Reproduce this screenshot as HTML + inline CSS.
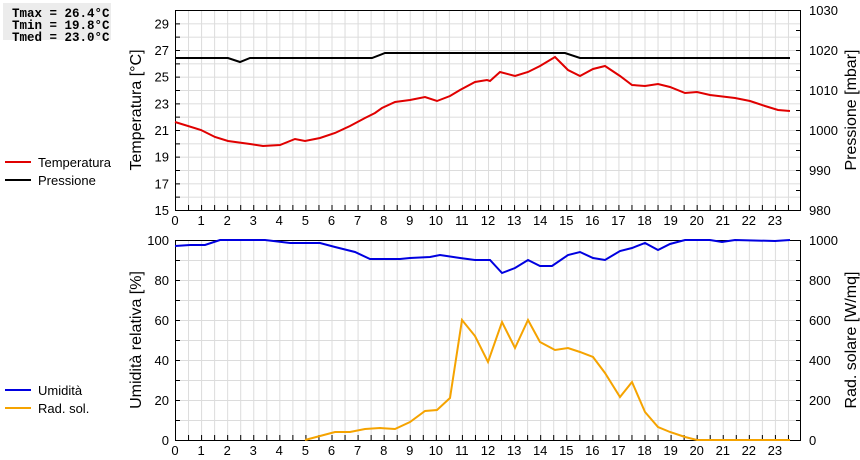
<!DOCTYPE html>
<html><head><meta charset="utf-8"><style>
body{margin:0;background:#fff;width:860px;height:460px;overflow:hidden}
svg{display:block;font-family:"Liberation Sans",sans-serif}
</style></head><body>
<svg width="860" height="460" xmlns="http://www.w3.org/2000/svg">
<defs>
<pattern id="gt" patternUnits="userSpaceOnUse" x="175" y="10" width="13.0417" height="13.3333"><path d="M0.5 0V13.3333M0 0.5H13.0417" stroke="#dcdcdc" stroke-width="1" fill="none"/></pattern>
<pattern id="gb" patternUnits="userSpaceOnUse" x="175" y="240" width="13.0417" height="20"><path d="M0.5 0V20M0 0.5H13.0417" stroke="#dcdcdc" stroke-width="1" fill="none"/></pattern>
</defs>
<rect x="3" y="3" width="108" height="37" fill="#ececec"/>
<g font-family="Liberation Mono,monospace" font-size="12.5" font-weight="bold" fill="#000">
<text x="12" y="17">Tmax = 26.4°C</text>
<text x="12" y="29">Tmin = 19.8°C</text>
<text x="12" y="41">Tmed = 23.0°C</text>
</g>
<rect x="175" y="10" width="626" height="200" fill="url(#gt)"/>
<rect x="175" y="240" width="626" height="200" fill="url(#gb)"/>
<g stroke="#000" fill="none">
<rect x="175.5" y="10.5" width="625" height="200"/>
<rect x="175.5" y="240.5" width="625" height="200"/>
<line x1="175" y1="207.5" x2="801" y2="207.5" stroke-width="5" stroke-dasharray="1 12.0417"/>
<line x1="175" y1="437.5" x2="801" y2="437.5" stroke-width="5" stroke-dasharray="1 12.0417"/>
<line x1="177.5" y1="10" x2="177.5" y2="211" stroke-width="5" stroke-dasharray="1 12.3333"/>
<line x1="798.5" y1="10" x2="798.5" y2="211" stroke-width="5" stroke-dasharray="1 19"/>
<line x1="177.5" y1="240" x2="177.5" y2="441" stroke-width="5" stroke-dasharray="1 19"/>
<line x1="798.5" y1="240" x2="798.5" y2="441" stroke-width="5" stroke-dasharray="1 19"/>
</g>
<polyline fill="none" stroke="#000" stroke-width="2" points="175,58 228,58 240,62 250,58 372,58 385,53 565,53 580,58 790,58"/>
<polyline fill="none" stroke="#e00000" stroke-width="2" points="175,122 201,130 215,137 228,141 250,144 263,146 280,145 295,139 305,141 320,138 335,133 350,126 365,118 375,113 382,108 395,102 410,100 425,97 437,101 450,96 460,90 475,82 487,80 490,81 500,72 515,76 528,72 540,66 555,57 568,70 580,76 593,69 605,66 620,76 632,85 645,86 658,84 670,87 685,93 697,92 710,95 735,98 750,101 765,106 778,110 790,111"/>
<polyline fill="none" stroke="#0000e0" stroke-width="2" points="175,246 190,245 205,245 220,240 265,240 290,243 320,243 335,247 355,252 370,259 385,259 400,259 410,258 430,257 440,255 460,258 475,260 490,260 502,273 515,268 528,260 540,266 552,266 568,255 580,252 593,258 605,260 620,251 632,248 645,243 658,250 670,244 685,240 710,240 722,242 735,240 775,241 790,240"/>
<polyline fill="none" stroke="#f5a300" stroke-width="2" points="305,440 320,436 335,432 350,432 365,429 380,428 395,429 410,422 425,411 437,410 450,398 462,320 475,336 488,362 502,322 515,348 528,320 540,342 555,350 568,348 580,352 593,357 605,373 620,397 632,382 645,412 658,427 670,432 685,437 697,440 790,440"/>
<g font-size="13">
<line x1="5" y1="162" x2="31" y2="162" stroke="#e00000" stroke-width="2"/><text x="38" y="167">Temperatura</text>
<line x1="5" y1="180" x2="31" y2="180" stroke="#000" stroke-width="2"/><text x="38" y="185">Pressione</text>
<line x1="5" y1="390" x2="31" y2="390" stroke="#0000e0" stroke-width="2"/><text x="38" y="395">Umidità</text>
<line x1="5" y1="408" x2="31" y2="408" stroke="#f5a300" stroke-width="2"/><text x="38" y="413">Rad. sol.</text>
</g>
<g font-size="16">
<text transform="translate(141,110) rotate(-90)" text-anchor="middle">Temperatura [°C]</text>
<text transform="translate(856,110) rotate(-90)" text-anchor="middle">Pressione [mbar]</text>
<text transform="translate(141,340) rotate(-90)" text-anchor="middle">Umidità relativa [%]</text>
<text transform="translate(856,340) rotate(-90)" text-anchor="middle">Rad. solare [W/mq]</text>
</g>
<g font-size="13" text-anchor="middle">
<text x="175" y="225">0</text><text x="201.1" y="225">1</text><text x="227.2" y="225">2</text><text x="253.3" y="225">3</text><text x="279.3" y="225">4</text><text x="305.4" y="225">5</text><text x="331.5" y="225">6</text><text x="357.6" y="225">7</text><text x="383.7" y="225">8</text><text x="409.8" y="225">9</text><text x="435.8" y="225">10</text><text x="461.9" y="225">11</text><text x="488" y="225">12</text><text x="514.1" y="225">13</text><text x="540.2" y="225">14</text><text x="566.3" y="225">15</text><text x="592.3" y="225">16</text><text x="618.4" y="225">17</text><text x="644.5" y="225">18</text><text x="670.6" y="225">19</text><text x="696.7" y="225">20</text><text x="722.8" y="225">21</text><text x="748.8" y="225">22</text><text x="774.9" y="225">23</text>
<text x="175" y="455">0</text><text x="201.1" y="455">1</text><text x="227.2" y="455">2</text><text x="253.3" y="455">3</text><text x="279.3" y="455">4</text><text x="305.4" y="455">5</text><text x="331.5" y="455">6</text><text x="357.6" y="455">7</text><text x="383.7" y="455">8</text><text x="409.8" y="455">9</text><text x="435.8" y="455">10</text><text x="461.9" y="455">11</text><text x="488" y="455">12</text><text x="514.1" y="455">13</text><text x="540.2" y="455">14</text><text x="566.3" y="455">15</text><text x="592.3" y="455">16</text><text x="618.4" y="455">17</text><text x="644.5" y="455">18</text><text x="670.6" y="455">19</text><text x="696.7" y="455">20</text><text x="722.8" y="455">21</text><text x="748.8" y="455">22</text><text x="774.9" y="455">23</text>
</g>
<g font-size="13" text-anchor="end">
<text x="169" y="215">15</text><text x="169" y="188.3">17</text><text x="169" y="161.7">19</text><text x="169" y="135">21</text><text x="169" y="108.3">23</text><text x="169" y="81.7">25</text><text x="169" y="55">27</text><text x="169" y="28.3">29</text>
<text x="169" y="445">0</text><text x="169" y="405">20</text><text x="169" y="365">40</text><text x="169" y="325">60</text><text x="169" y="285">80</text><text x="169" y="245">100</text>
</g>
<g font-size="13" text-anchor="start">
<text x="809" y="215">980</text><text x="809" y="175">990</text><text x="809" y="135">1000</text><text x="809" y="95">1010</text><text x="809" y="55">1020</text><text x="809" y="15">1030</text>
<text x="809" y="445">0</text><text x="809" y="405">200</text><text x="809" y="365">400</text><text x="809" y="325">600</text><text x="809" y="285">800</text><text x="809" y="245">1000</text>
</g>
</svg>
</body></html>
